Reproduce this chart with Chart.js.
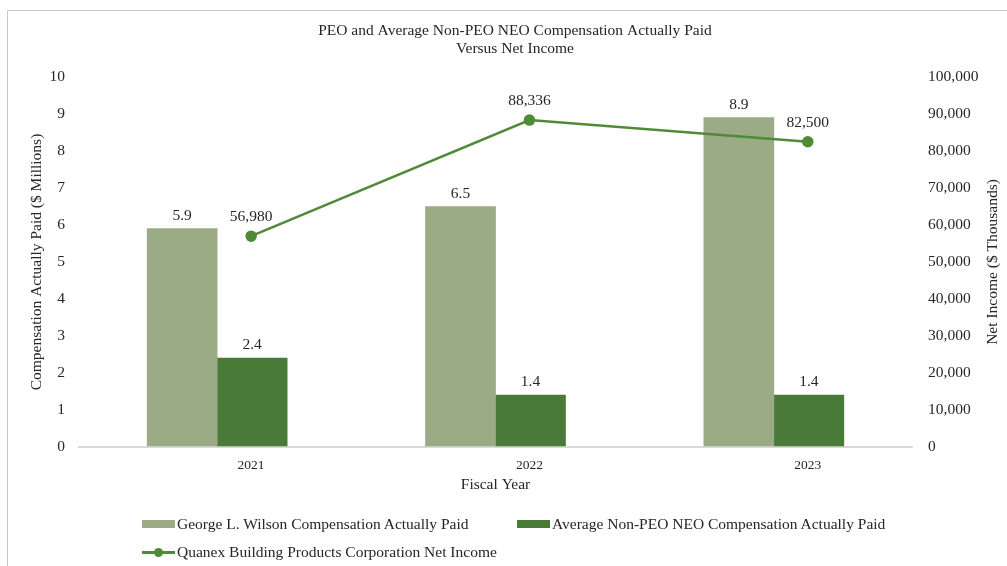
<!DOCTYPE html>
<html>
<head>
<meta charset="utf-8"/>
<script src="https://cdn.jsdelivr.net/npm/chart.js@4.4.0/dist/chart.umd.min.js"></script>
<style>
  body { margin: 0; overflow: hidden; background: #fff; }
  #frame { position: absolute; left: 7px; top: 10px; width: 1100px; height: 700px; border: 1px solid #c9c9c9; }
  #wrap { position: absolute; left: 0; top: 0; width: 1007px; height: 566px; }
  #legend { position: absolute; left: 142px; top: 514px; display: grid; grid-template-columns: 375px auto;
            row-gap: 8px; font: 15.5px "Liberation Serif", serif; color: #262626; }
  .item { display: flex; align-items: center; white-space: nowrap; height: 20px; }
  .box { display: inline-block; width: 33px; height: 8px; margin-right: 2px; }
  .mk { position: relative; display: inline-block; width: 33px; height: 9px; margin-right: 2px; }
  .mk:before { content: ""; position: absolute; left: 0; right: 0; top: 3px; height: 3px; background: #4f8a37; }
  .mk:after { content: ""; position: absolute; left: 12px; top: 0; width: 9px; height: 9px; border-radius: 50%; background: #4f8a37; }
</style>
</head>
<body>
<div id="frame"></div>
<div id="wrap"><canvas id="chart"></canvas></div>
<div id="legend"></div>

<script>
  // data
  const years = ['2021', '2022', '2023'];
  const peoPaid = [5.9, 6.5, 8.9];          // $ millions
  const neoPaid = [2.4, 1.4, 1.4];          // $ millions
  const netIncome = [56980, 88336, 82500];  // $ thousands

  const seriesNames = [
    'George L. Wilson Compensation Actually Paid',
    'Average Non-PEO NEO Compensation Actually Paid',
    'Quanex Building Products Corporation Net Income'
  ];
  const colors = ['#9aab85', '#4a7a38', '#4f8a37'];

  const font = '"Liberation Serif", serif';
  const textColor = '#262626';

  // labels over every bar and point
  const valueLabels = {
    id: 'valueLabels',
    afterDatasetsDraw(chart) {
      const ctx = chart.ctx;
      ctx.save();
      ctx.font = '15.5px ' + font;
      ctx.fillStyle = textColor;
      ctx.textAlign = 'center';
      ctx.textBaseline = 'middle';
      chart.data.datasets.forEach((ds, i) => {
        const meta = chart.getDatasetMeta(i);
        meta.data.forEach((el, j) => {
          if (ds.type === 'line') {
            ctx.fillText(ds.data[j].y.toLocaleString('en-US'), el.x, el.y - 19);
          } else {
            ctx.fillText(ds.data[j].toFixed(1), el.x, el.y - 13);
          }
        });
      });
      ctx.restore();
    }
  };

  // y axis titles, both reading bottom to top
  const sideTitles = {
    id: 'sideTitles',
    afterDraw(chart) {
      const ctx = chart.ctx;
      const a = chart.chartArea;
      const mid = (a.top + a.bottom) / 2;
      ctx.save();
      ctx.font = '15.5px ' + font;
      ctx.fillStyle = textColor;
      ctx.textAlign = 'center';
      ctx.textBaseline = 'middle';
      [[37, 'Compensation Actually Paid ($ Millions)'], [993, 'Net Income ($ Thousands)']].forEach(([x, t]) => {
        ctx.save();
        ctx.translate(x, mid);
        ctx.rotate(-Math.PI / 2);
        ctx.fillText(t, 0, 0);
        ctx.restore();
      });
      ctx.restore();
    }
  };

  new Chart(document.getElementById('chart'), {
    data: {
      labels: years,
      datasets: [
        {
          type: 'line',
          label: seriesNames[2],
          data: netIncome.map((v, i) => ({ x: i, y: v })),
          xAxisID: 'x2',
          yAxisID: 'y2',
          borderColor: colors[2],
          backgroundColor: colors[2],
          borderWidth: 2.5,
          pointRadius: 4.5,
          pointHoverRadius: 4.5,
          order: 0
        },
        {
          type: 'bar',
          label: seriesNames[0],
          data: peoPaid,
          backgroundColor: colors[0],
          barThickness: 70,
          order: 1
        },
        {
          type: 'bar',
          label: seriesNames[1],
          data: neoPaid,
          backgroundColor: colors[1],
          barThickness: 70,
          order: 1
        }
      ]
    },
    options: {
      responsive: true,
      maintainAspectRatio: false,
      animation: false,
      layout: { padding: { top: 22, left: 23, right: 0, bottom: 72 } },
      plugins: {
        legend: { display: false },
        tooltip: { enabled: false },
        title: {
          display: true,
          text: ['PEO and Average Non-PEO NEO Compensation Actually Paid', 'Versus Net Income'],
          color: textColor,
          font: { family: font, size: 15.5, weight: 'normal', lineHeight: 1.16 },
          padding: { top: 0, bottom: 19 }
        }
      },
      scales: {
        x: { display: false },
        x2: {
          type: 'linear',
          position: 'bottom',
          min: -0.622,
          max: 2.378,
          grid: { display: false, drawTicks: false },
          border: { display: false },
          afterBuildTicks: (s) => { s.ticks = years.map((y, i) => ({ value: i })); },
          afterFit: (s) => { s.height = 47; },
          ticks: {
            padding: 10,
            color: textColor,
            font: { family: font, size: 13.5 },
            callback: (v) => years[v]
          },
          title: {
            display: true,
            text: 'Fiscal Year',
            color: textColor,
            font: { family: font, size: 15.5, lineHeight: 1.2 },
            padding: { top: 0, bottom: 0 }
          }
        },
        y: {
          min: 0,
          max: 10,
          ticks: { stepSize: 1, padding: 13, color: textColor, font: { family: font, size: 15.5 } },
          grid: {
            color: (c) => c.tick && c.tick.value === 0 ? '#d9d9d9' : 'rgba(0,0,0,0)',
            lineWidth: 2,
            drawTicks: false
          },
          border: { display: false },
          afterFit: (s) => { s.width = 55; }
        },
        y2: {
          position: 'right',
          min: 0,
          max: 100000,
          ticks: {
            stepSize: 10000,
            padding: 15,
            color: textColor,
            font: { family: font, size: 15.5 },
            callback: (v) => v.toLocaleString('en-US')
          },
          grid: { display: false, drawTicks: false },
          border: { display: false },
          afterFit: (s) => { s.width = 94; }
        }
      }
    },
    plugins: [valueLabels, sideTitles]
  });

  // legend below the chart
  const legend = document.getElementById('legend');
  seriesNames.forEach((name, i) => {
    const item = document.createElement('div');
    item.className = 'item';
    const mark = document.createElement('span');
    if (i < 2) {
      mark.className = 'box';
      mark.style.background = colors[i];
    } else {
      mark.className = 'mk';
    }
    item.appendChild(mark);
    item.appendChild(document.createTextNode(name));
    legend.appendChild(item);
  });
</script>
</body>
</html>
